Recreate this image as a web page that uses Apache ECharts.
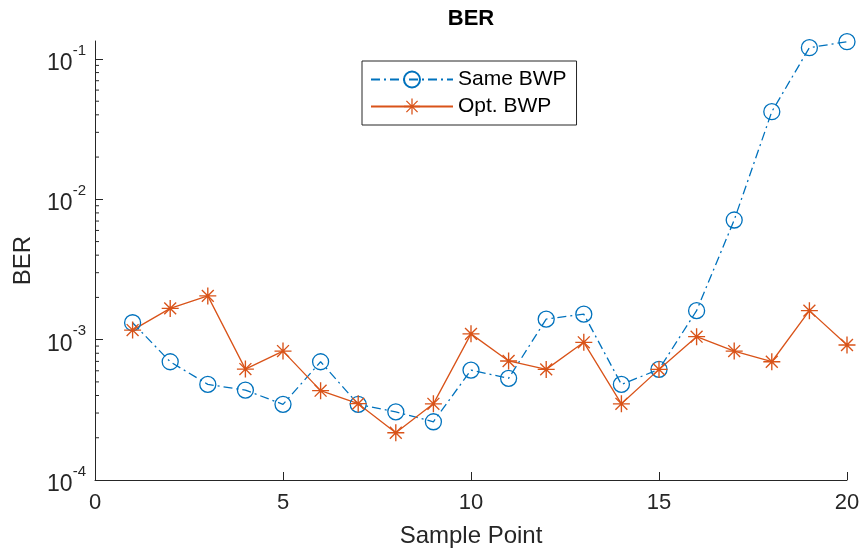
<!DOCTYPE html>
<html>
<head>
<meta charset="utf-8">
<script src="https://cdn.jsdelivr.net/npm/echarts@6/dist/echarts.min.js"></script>
<style>
html,body{margin:0;padding:0;background:#fff;}
#chart{width:861px;height:553px;}
</style>
</head>
<body>
<div id="chart"></div>
<script>
// ---- data ----
const samplePoints = [1,2,3,4,5,6,7,8,9,10,11,12,13,14,15,16,17,18,19,20];
const sameBWP = [1.32e-3, 6.96e-4, 4.80e-4, 4.37e-4, 3.46e-4, 6.96e-4, 3.46e-4, 3.06e-4, 2.60e-4, 6.07e-4,
                 5.30e-4, 1.40e-3, 1.52e-3, 4.80e-4, 6.14e-4, 1.61e-3, 7.12e-3, 4.21e-2, 0.1203, 0.1328];
const optBWP  = [1.17e-3, 1.67e-3, 2.05e-3, 6.17e-4, 8.29e-4, 4.33e-4, 3.50e-4, 2.17e-4, 3.49e-4, 1.10e-3,
                 7.05e-4, 6.14e-4, 9.57e-4, 3.49e-4, 6.14e-4, 1.05e-3, 8.29e-4, 6.96e-4, 1.61e-3, 9.16e-4];
const seriesNames = ['Same BWP', 'Opt. BWP'];
const xTicks = [0, 5, 10, 15, 20];
const yMajorTicks = [1e-4, 1e-3, 1e-2, 1e-1];
const yMinorTicks = [2e-4,3e-4,4e-4,5e-4,6e-4,7e-4,8e-4,9e-4,
                     2e-3,3e-3,4e-3,5e-3,6e-3,7e-3,8e-3,9e-3,
                     2e-2,3e-2,4e-2,5e-2,6e-2,7e-2,8e-2,9e-2];
const yMin = 1e-4, yMax = 0.1343;

const FONT = "'Liberation Sans', Arial, Helvetica, sans-serif";
const AX = '#262626';
const BLUE = '#0072BD';
const ORANGE = '#D95319';
const asterisk = 'path://M0 46L100 46L100 54L0 54Z M46 0L54 0L54 100L46 100Z M17.83 12.17L87.83 82.17L82.17 87.83L12.17 17.83Z M82.17 12.17L87.83 17.83L17.83 87.83L12.17 82.17Z';

const chart = echarts.init(document.getElementById('chart'), null, {renderer:'canvas'});

const option = {
  backgroundColor:'#fff',
  animation:false,
  title:{
    text:'BER', left:471, top:8, textAlign:'center', padding:0,
    textStyle:{fontFamily:FONT, fontSize:22, fontWeight:'bold', color:'#000'}
  },
  legend:{
    data:seriesNames.slice(),
    orient:'vertical', left:362, top:61,
    padding:[8,10,8,8],
    itemWidth:82, itemHeight:20, itemGap:6,
    borderColor:AX, borderWidth:1, backgroundColor:'#fff',
    textStyle:{fontFamily:FONT, fontSize:21, color:'#000'}
  },
  grid:{left:95, right:14, top:41, bottom:73, containLabel:false, outerBoundsMode:'none'},
  xAxis:{
    type:'value', min:xTicks[0], max:xTicks[xTicks.length-1], interval:5,
    name:'Sample Point', nameLocation:'middle', nameGap:44,
    nameTextStyle:{fontFamily:FONT, fontSize:24, color:AX},
    axisLine:{show:true, onZero:false, lineStyle:{color:AX, width:1}},
    axisTick:{show:true, inside:true, length:8, lineStyle:{color:AX}},
    axisLabel:{fontFamily:FONT, fontSize:22, color:AX, margin:12},
    splitLine:{show:false}
  },
  yAxis:{
    type:'log', min:yMin, max:yMax,
    name:'BER', nameLocation:'middle', nameGap:60,
    nameTextStyle:{fontFamily:FONT, fontSize:24, color:AX},
    axisLine:{show:true, lineStyle:{color:AX, width:1}},
    axisTick:{show:true, inside:true, length:8, customValues:yMajorTicks.slice(), lineStyle:{color:AX, width:1}},
    axisLabel:{
      margin:9,
      customValues:yMajorTicks.slice(),
      formatter:(v) => '{b|10}{s|' + Math.round(Math.log10(v)) + '}',
      rich:{
        b:{fontFamily:FONT, fontSize:23, color:AX, lineHeight:32, verticalAlign:'bottom'},
        s:{fontFamily:FONT, fontSize:15, color:AX, lineHeight:32, verticalAlign:'top'}
      }
    },
    splitLine:{show:false}
  },
  series:[
    {
      name:seriesNames[0], type:'line',
      data: samplePoints.map((x,i) => [x, sameBWP[i]]),
      symbol:'circle', symbolSize:16,
      itemStyle:{color:'rgba(0,0,0,0)', borderColor:BLUE, borderWidth:1.3},
      lineStyle:{color:BLUE, width:1.3, type:[9,4,2,4]}
    },
    {
      name:seriesNames[1], type:'line',
      data: samplePoints.map((x,i) => [x, optBWP[i]]),
      symbol:asterisk, symbolSize:17,
      itemStyle:{color:ORANGE, borderWidth:0},
      lineStyle:{color:ORANGE, width:1.3, type:'solid'}
    }
  ]
};
chart.setOption(option);

// Minor log ticks (2..9 x 10^k), positioned through the chart's own y scale.
const gx = chart.convertToPixel({xAxisIndex:0}, xTicks[0]);
const tickEls = [];
yMinorTicks.forEach(v => {
  const py = chart.convertToPixel({yAxisIndex:0}, v);
  if (typeof py === 'number' && isFinite(py)) {
    tickEls.push({type:'line', silent:true, z:50,
      shape:{x1:gx, y1:py, x2:gx+4, y2:py}, style:{stroke:AX, lineWidth:1}});
  }
});
chart.setOption({graphic:{elements:tickEls}});
</script>
</body>
</html>
